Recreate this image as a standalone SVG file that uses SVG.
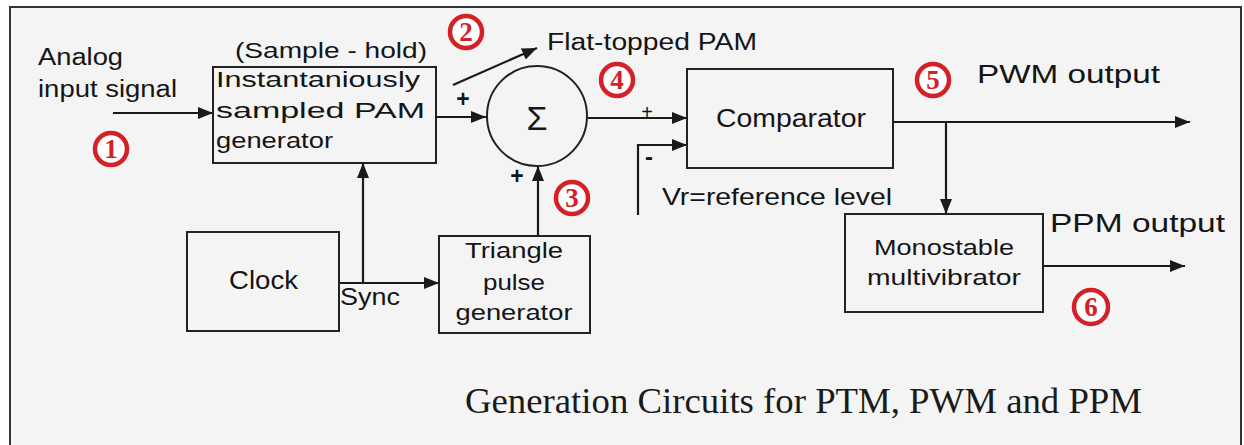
<svg xmlns="http://www.w3.org/2000/svg" width="1244" height="445" viewBox="0 0 1244 445">
<style>
.box{fill:none;stroke:#222;stroke-width:2}
.ln{fill:none;stroke:#1a1a1a;stroke-width:2.2}
.t{font-family:"Liberation Sans",Arial,sans-serif;fill:#151515}
.num circle{fill:#fff;stroke:#d42027;stroke-width:4.5}
.num text{font-family:"Liberation Serif","Times New Roman",serif;font-size:27px;font-weight:bold;fill:#d42027;text-anchor:middle}
.cap{font-family:"Liberation Serif","Times New Roman",serif;font-size:36px;fill:#1a1a1a}
</style>
<defs>
<marker id="ah" markerUnits="userSpaceOnUse" markerWidth="15" markerHeight="12" refX="15" refY="6" orient="auto">
<path d="M0,0 L15,6 L0,12 z" fill="#1a1a1a"/>
</marker>
</defs>
<rect x="0" y="0" width="1244" height="445" fill="#fff"/>
<path d="M10,450 V7 H1241 V450" fill="#f4f4f4" stroke="#333" stroke-width="2"/>

<g id="connectors">
<path class="ln" d="M113,113 H213" marker-end="url(#ah)"/>
<path class="ln" d="M436,117 H486" marker-end="url(#ah)"/>
<path class="ln" d="M453,85 L537,48" marker-end="url(#ah)"/>
<path class="ln" d="M588,118 H687" marker-end="url(#ah)"/>
<path class="ln" d="M638,215 V145 H687" marker-end="url(#ah)"/>
<path class="ln" d="M339,283 H439" marker-end="url(#ah)"/>
<path class="ln" d="M363,283 V163" marker-end="url(#ah)"/>
<path class="ln" d="M538,236 V166" marker-end="url(#ah)"/>
<path class="ln" d="M893,122 H1190" marker-end="url(#ah)"/>
<path class="ln" d="M946,122 V214" marker-end="url(#ah)"/>
<path class="ln" d="M1043,266 H1185" marker-end="url(#ah)"/>
<text class="t" x="463" y="107" font-size="23" font-weight="bold" text-anchor="middle">+</text>
<text class="t" x="647" y="119" font-size="20" text-anchor="middle">+</text>
<text class="t" x="649" y="165" font-size="24" font-weight="bold" text-anchor="middle">-</text>
<text class="t" x="517" y="184" font-size="23" font-weight="bold" text-anchor="middle">+</text>
<text class="t" x="340" y="305" font-size="23" textLength="60" lengthAdjust="spacingAndGlyphs">Sync</text>
</g>

<g id="analog-input">
<text class="t" x="38" y="65" font-size="23" textLength="85" lengthAdjust="spacingAndGlyphs">Analog</text>
<text class="t" x="38" y="97" font-size="23" textLength="139" lengthAdjust="spacingAndGlyphs">input signal</text>
</g>

<g id="sample-hold">
<text class="t" x="235" y="58" font-size="22" textLength="192" lengthAdjust="spacingAndGlyphs">(Sample - hold)</text>
<rect class="box" x="213" y="67" width="223" height="96"/>
<text class="t" x="216" y="87" font-size="22" textLength="204" lengthAdjust="spacingAndGlyphs">Instantaniously</text>
<text class="t" x="216" y="118" font-size="22" textLength="209" lengthAdjust="spacingAndGlyphs">sampled PAM</text>
<text class="t" x="216" y="148" font-size="22" textLength="117" lengthAdjust="spacingAndGlyphs">generator</text>
</g>

<g id="summer">
<circle cx="537" cy="116" r="50" fill="none" stroke="#222" stroke-width="2"/>
<text class="t" x="537" y="130" font-size="34" text-anchor="middle">Σ</text>
</g>

<g id="flat-topped-label">
<text class="t" x="547" y="50" font-size="23" textLength="210" lengthAdjust="spacingAndGlyphs">Flat-topped PAM</text>
</g>

<g id="comparator">
<rect class="box" x="687" y="69" width="206" height="99"/>
<text class="t" x="716" y="127" font-size="25" textLength="150" lengthAdjust="spacingAndGlyphs">Comparator</text>
<text class="t" x="662" y="205" font-size="24" textLength="230" lengthAdjust="spacingAndGlyphs">Vr=reference level</text>
</g>

<g id="clock">
<rect class="box" x="187" y="232" width="152" height="99"/>
<text class="t" x="229" y="289" font-size="25" textLength="69" lengthAdjust="spacingAndGlyphs">Clock</text>
</g>

<g id="triangle-generator">
<rect class="box" x="439" y="236" width="151" height="97"/>
<text class="t" x="514" y="258" font-size="22" text-anchor="middle" textLength="98" lengthAdjust="spacingAndGlyphs">Triangle</text>
<text class="t" x="514" y="290" font-size="22" text-anchor="middle" textLength="62" lengthAdjust="spacingAndGlyphs">pulse</text>
<text class="t" x="514" y="320" font-size="22" text-anchor="middle" textLength="117" lengthAdjust="spacingAndGlyphs">generator</text>
</g>

<g id="pwm-output">
<text class="t" x="977" y="83" font-size="26" textLength="183" lengthAdjust="spacingAndGlyphs">PWM output</text>
</g>

<g id="monostable">
<rect class="box" x="845" y="214" width="198" height="98"/>
<text class="t" x="944" y="255" font-size="22" text-anchor="middle" textLength="140" lengthAdjust="spacingAndGlyphs">Monostable</text>
<text class="t" x="944" y="285" font-size="22" text-anchor="middle" textLength="154" lengthAdjust="spacingAndGlyphs">multivibrator</text>
</g>

<g id="ppm-output">
<text class="t" x="1050" y="232" font-size="26" textLength="175" lengthAdjust="spacingAndGlyphs">PPM output</text>
</g>

<g id="markers">
<g class="num"><circle cx="111" cy="149" r="16"/><text x="111" y="158">1</text></g>
<g class="num"><circle cx="466" cy="32" r="16"/><text x="466" y="41">2</text></g>
<g class="num"><circle cx="572" cy="198" r="16"/><text x="572" y="207">3</text></g>
<g class="num"><circle cx="617" cy="80" r="16"/><text x="617" y="89">4</text></g>
<g class="num"><circle cx="933" cy="80" r="16"/><text x="933" y="89">5</text></g>
<g class="num"><circle cx="1091" cy="307" r="17"/><text x="1091" y="316">6</text></g>
</g>

<g id="caption">
<text class="cap" x="465" y="413" textLength="677" lengthAdjust="spacingAndGlyphs">Generation Circuits for PTM, PWM and PPM</text>
</g>
</svg>
